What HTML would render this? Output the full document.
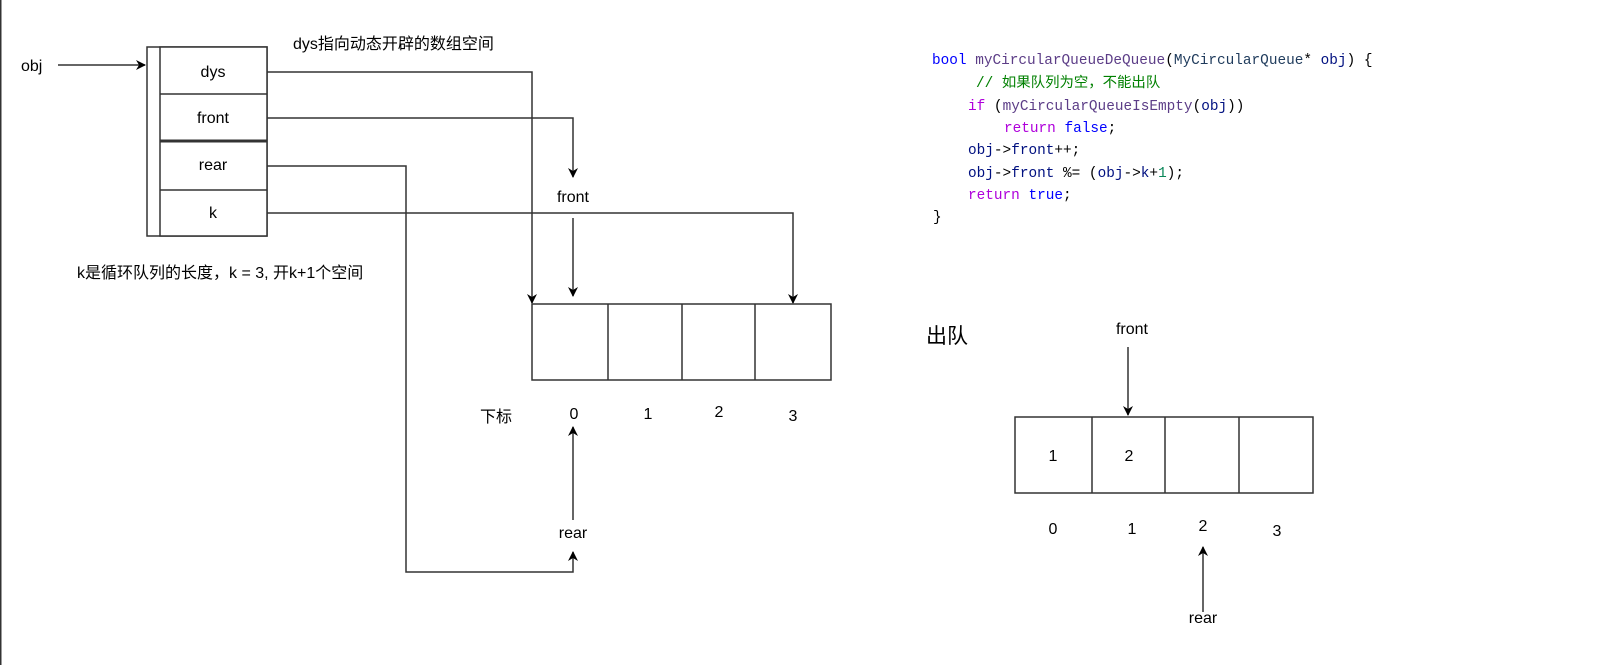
<!DOCTYPE html>
<html><head><meta charset="utf-8"><style>
html,body{margin:0;padding:0;background:#fff;}
svg{display:block;}
.t{font-family:"Liberation Sans","Noto Sans CJK SC",sans-serif;font-size:16px;fill:#000;}
.c{font-family:"Liberation Mono","Noto Sans CJK SC",monospace;font-size:14.4px;}
</style></head><body>
<svg width="1609" height="665" viewBox="0 0 1609 665" xmlns="http://www.w3.org/2000/svg">
<defs>
<marker id="a" viewBox="0 0 10 10" refX="9" refY="5" markerWidth="10" markerHeight="10" markerUnits="userSpaceOnUse" orient="auto">
<path d="M0,0 L10,5 L0,10 L3,5 z" fill="#000"/></marker>
</defs>
<line x1="0.75" y1="0" x2="0.75" y2="665" stroke="#333" stroke-width="1.5"/>
<g fill="none" stroke="#333" stroke-width="1.5">
<rect x="147" y="47" width="120" height="189" fill="#fff"/>
<rect x="160" y="47" width="107" height="189" fill="#fff"/>
<line x1="160" y1="94" x2="267" y2="94"/>
<line x1="160" y1="141" x2="267" y2="141" stroke-width="3"/>
<line x1="160" y1="190" x2="267" y2="190"/>
</g>
<text class="t" x="213" y="77" text-anchor="middle">dys</text>
<text class="t" x="213" y="123" text-anchor="middle">front</text>
<text class="t" x="213" y="170" text-anchor="middle">rear</text>
<text class="t" x="213" y="218" text-anchor="middle">k</text>
<text class="t" x="21" y="71">obj</text>
<text class="t" x="293" y="49">dys指向动态开辟的数组空间</text>
<text class="t" x="77" y="278">k是循环队列的长度，k = 3, 开k+1个空间</text>
<g fill="none" stroke="#333" stroke-width="1.5">
<line x1="58" y1="65" x2="145" y2="65" marker-end="url(#a)"/>
<polyline points="267,72 532,72 532,303" marker-end="url(#a)"/>
<polyline points="267,118 573,118 573,177" marker-end="url(#a)"/>
<line x1="573" y1="218" x2="573" y2="296" marker-end="url(#a)"/>
<polyline points="267,166 406,166 406,572 573,572 573,552" marker-end="url(#a)"/>
<polyline points="267,213 793,213 793,303" marker-end="url(#a)"/>
<line x1="573" y1="520" x2="573" y2="427" marker-end="url(#a)"/>
<rect x="532" y="304" width="299" height="76"/>
<line x1="608" y1="304" x2="608" y2="380"/>
<line x1="682" y1="304" x2="682" y2="380"/>
<line x1="755" y1="304" x2="755" y2="380"/>
</g>
<text class="t" x="573" y="202" text-anchor="middle">front</text>
<text class="t" x="480" y="422">下标</text>
<text class="t" x="574" y="419" text-anchor="middle">0</text>
<text class="t" x="648" y="419" text-anchor="middle">1</text>
<text class="t" x="719" y="417" text-anchor="middle">2</text>
<text class="t" x="793" y="421" text-anchor="middle">3</text>
<text class="t" x="573" y="538" text-anchor="middle">rear</text>

<text class="t" x="926" y="343" style="font-size:21px">出队</text>
<text class="t" x="1132" y="334" text-anchor="middle">front</text>
<g fill="none" stroke="#333" stroke-width="1.5">
<line x1="1128" y1="347" x2="1128" y2="415" marker-end="url(#a)"/>
<rect x="1015" y="417" width="298" height="76"/>
<line x1="1092" y1="417" x2="1092" y2="493"/>
<line x1="1165" y1="417" x2="1165" y2="493"/>
<line x1="1239" y1="417" x2="1239" y2="493"/>
<line x1="1203" y1="612" x2="1203" y2="547" marker-end="url(#a)"/>
</g>
<text class="t" x="1053" y="461" text-anchor="middle">1</text>
<text class="t" x="1129" y="461" text-anchor="middle">2</text>
<text class="t" x="1053" y="534" text-anchor="middle">0</text>
<text class="t" x="1132" y="534" text-anchor="middle">1</text>
<text class="t" x="1203" y="531" text-anchor="middle">2</text>
<text class="t" x="1277" y="536" text-anchor="middle">3</text>
<text class="t" x="1203" y="623" text-anchor="middle">rear</text>

<g class="c" xml:space="preserve">
<text x="932" y="64"><tspan fill="#0000ff">bool</tspan> <tspan fill="#5c3d87">myCircularQueueDeQueue</tspan><tspan fill="#000">(</tspan><tspan fill="#1f3b5c">MyCircularQueue</tspan><tspan fill="#000">* </tspan><tspan fill="#001080">obj</tspan><tspan fill="#000">) {</tspan></text>
<text x="976" y="87" fill="#008000">// 如果队列为空，不能出队</text>
<text x="968" y="110"><tspan fill="#af00db">if</tspan><tspan fill="#000"> (</tspan><tspan fill="#5c3d87">myCircularQueueIsEmpty</tspan><tspan fill="#000">(</tspan><tspan fill="#001080">obj</tspan><tspan fill="#000">))</tspan></text>
<text x="1004" y="132"><tspan fill="#af00db">return</tspan> <tspan fill="#0000ff">false</tspan><tspan fill="#000">;</tspan></text>
<text x="968" y="154"><tspan fill="#001080">obj</tspan><tspan fill="#000">-&gt;</tspan><tspan fill="#001080">front</tspan><tspan fill="#000">++;</tspan></text>
<text x="968" y="177"><tspan fill="#001080">obj</tspan><tspan fill="#000">-&gt;</tspan><tspan fill="#001080">front</tspan><tspan fill="#000"> %= (</tspan><tspan fill="#001080">obj</tspan><tspan fill="#000">-&gt;</tspan><tspan fill="#001080">k</tspan><tspan fill="#000">+</tspan><tspan fill="#098658">1</tspan><tspan fill="#000">);</tspan></text>
<text x="968" y="199"><tspan fill="#af00db">return</tspan> <tspan fill="#0000ff">true</tspan><tspan fill="#000">;</tspan></text>
<text x="933" y="221" fill="#000">}</text>
</g>
</svg>
</body></html>
